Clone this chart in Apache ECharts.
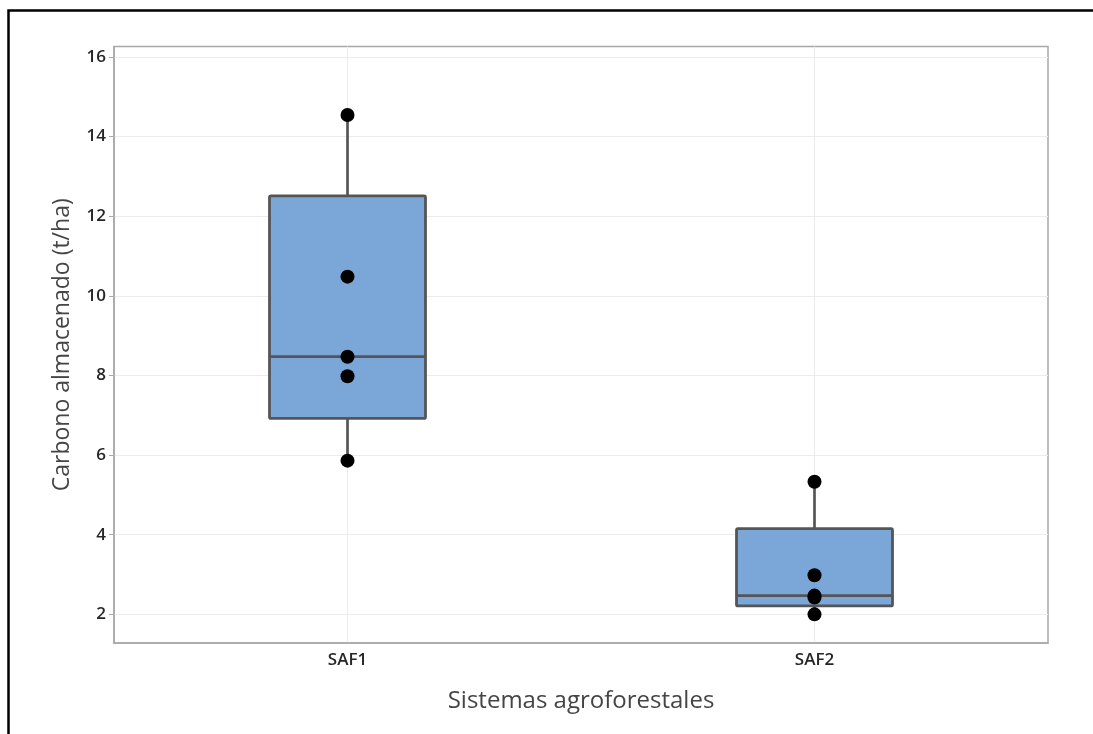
<!DOCTYPE html>
<html><head><meta charset="utf-8">
<script src="https://cdn.jsdelivr.net/npm/echarts@6/dist/echarts.min.js"></script>
<style>html,body{margin:0;padding:0;background:#fff}#c{width:1093px;height:734px}</style>
</head><body><div id="c"></div>
<script>
const categories = ['SAF1', 'SAF2'];
// observed points per system
const saf1Points = [14.54, 10.48, 8.47, 7.98, 5.86];
const saf2Points = [5.33, 2.98, 2.47, 2.42, 2.0];
// box stats: [whiskerLow, Q1, median, Q3, whiskerHigh]
const saf1Box = [5.86, 6.92, 8.47, 12.51, 14.54];
const saf2Box = [2.0, 2.21, 2.47, 4.15, 5.33];
const yTicks = [2, 4, 6, 8, 10, 12, 14, 16];

const boxData = [[0].concat(saf1Box), [1].concat(saf2Box)];
const pointData = saf1Points.map(v => [categories[0], v]).concat(saf2Points.map(v => [categories[1], v]));

const chart = echarts.init(document.getElementById('c'));
const font = '"Open Sans", "Noto Sans", sans-serif';
chart.setOption({
  animation: false,
  backgroundColor: '#fff',
  graphic: [{
    type: 'rect', silent: true, z: -1,
    shape: { x: 8.5, y: 10.5, width: 1200, height: 800 },
    style: { fill: 'none', stroke: '#000', lineWidth: 2.5 }
  }],
  grid: { left: 114, top: 46.5, right: 45, bottom: 91, show: true, borderColor: '#a8a8a8', borderWidth: 1.5, backgroundColor: 'transparent' },
  xAxis: {
    type: 'category', data: categories,
    name: 'Sistemas agroforestales', nameLocation: 'middle', nameGap: 46,
    nameTextStyle: { fontFamily: font, fontSize: 24, color: '#454545' },
    axisLine: { lineStyle: { color: '#a8a8a8', width: 1.5 } },
    axisTick: { alignWithLabel: true, length: 5, lineStyle: { color: '#a8a8a8' } },
    axisLabel: { fontFamily: font, fontSize: 17, fontWeight: 600, color: '#262626', margin: 9 },
    splitLine: { show: true, alignWithLabel: true, lineStyle: { color: '#ececec', width: 1 } }
  },
  yAxis: {
    type: 'value', min: 1.28, max: 16.26, splitNumber: 7,
    name: 'Carbono almacenado (t/ha)', nameLocation: 'middle', nameGap: 40,
    nameTextStyle: { fontFamily: font, fontSize: 23, color: '#454545' },
    axisLine: { show: true, lineStyle: { color: '#a8a8a8', width: 1.5 } },
    axisTick: { show: true, length: 5, lineStyle: { color: '#a8a8a8' } },
    axisLabel: {
      fontFamily: font, fontSize: 17, fontWeight: 600, color: '#262626', margin: 8,
      showMinLabel: false, showMaxLabel: false,
      formatter: v => yTicks.indexOf(v) >= 0 ? String(v) : ''
    },
    splitLine: { show: true, showMinLine: false, showMaxLine: false, lineStyle: { color: '#ececec', width: 1 } }
  },
  series: [{
    type: 'custom', z: 2,
    data: boxData,
    encode: { x: 0, y: [1, 2, 3, 4, 5] },
    renderItem: function (params, api) {
      const x = api.value(0);
      const lo = api.coord([x, api.value(1)]);
      const q1 = api.coord([x, api.value(2)]);
      const md = api.coord([x, api.value(3)]);
      const q3 = api.coord([x, api.value(4)]);
      const hi = api.coord([x, api.value(5)]);
      const w = api.size([1, 0])[0] * 0.334;
      const cx = lo[0];
      const stroke = '#555555';
      return {
        type: 'group', children: [
          { type: 'line', shape: { x1: cx, y1: hi[1], x2: cx, y2: q3[1] }, style: { stroke: stroke, lineWidth: 2.7 } },
          { type: 'line', shape: { x1: cx, y1: q1[1], x2: cx, y2: lo[1] }, style: { stroke: stroke, lineWidth: 2.7 } },
          { type: 'rect', shape: { x: cx - w / 2, y: q3[1], width: w, height: q1[1] - q3[1], r: 1.5 }, style: { fill: '#7ba6d8', stroke: stroke, lineWidth: 2.8 } },
          { type: 'line', shape: { x1: cx - w / 2, y1: md[1], x2: cx + w / 2, y2: md[1] }, style: { stroke: stroke, lineWidth: 2.7 } }
        ]
      };
    }
  }, {
    type: 'scatter', z: 3,
    data: pointData,
    symbol: 'circle', symbolSize: 14,
    itemStyle: { color: '#000', opacity: 1 }
  }]
});
</script></body></html>
